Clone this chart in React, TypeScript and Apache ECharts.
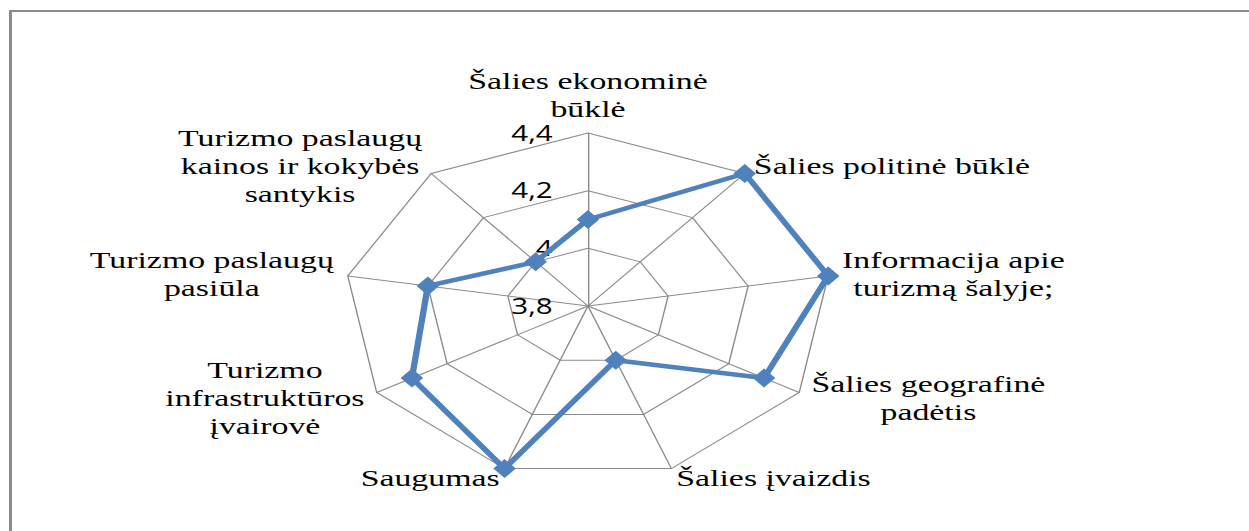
import React, { useEffect, useRef } from 'react';
import * as echarts from 'echarts';

// Categories in the clockwise order in which they appear, starting at the top
const categories: string[] = [
  'Šalies ekonominė\nbūklė',
  'Šalies politinė būklė',
  'Informacija apie\nturizmą šalyje;',
  'Šalies geografinė\npadėtis',
  'Šalies įvaizdis',
  'Saugumas',
  'Turizmo\ninfrastruktūros\nįvairovė',
  'Turizmo paslaugų\npasiūla',
  'Turizmo paslaugų\nkainos ir kokybės\nsantykis',
];
const values: number[] = [4.1, 4.4, 4.4, 4.3, 4.0, 4.4, 4.3, 4.2, 4.0];
const axisMin = 3.8;
const axisMax = 4.4;
const splitCount = 3;

const STRETCH = 1.41;
const PAGE_W = 1249;
const PAGE_H = 531;
const CHART_W = Math.round(PAGE_W / STRETCH);

export default function App() {
  const ref = useRef<HTMLDivElement>(null);

  useEffect(() => {
    if (!ref.current) return;
    document.body.style.overflow = 'hidden';
    const chart = echarts.init(ref.current, undefined, { renderer: 'svg' });
    // ECharts lays radar indicators counter-clockwise; reorder to get clockwise
    const order = [0, ...categories.slice(1).map((_, i) => categories.length - 1 - i)];
    const fmtTick = (v: number) => String(Number(v.toFixed(2))).replace('.', ',');
    chart.setOption({
      animation: false,
      backgroundColor: 'transparent',
      radar: {
        center: [417, 306],
        radius: 173,
        startAngle: 90,
        splitNumber: splitCount,
        shape: 'polygon',
        axisNameGap: 10,
        axisName: {
          color: '#000',
          fontFamily: 'Liberation Serif',
          fontSize: 24,
          lineHeight: 28,
          formatter: (name: string) =>
            name
              .split('\n')
              .map((l) => `{c|${l}}`)
              .join('\n'),
          rich: {
            c: {
              align: 'center',
              color: '#000',
              fontFamily: 'Liberation Serif',
              fontSize: 24,
              lineHeight: 28,
            },
          },
        },
        axisLine: { lineStyle: { color: '#8c8c8c', width: 1 } },
        splitLine: { lineStyle: { color: '#8c8c8c', width: 1 } },
        splitArea: { show: false },
        axisTick: { show: false },
        axisLabel: { show: false },
        indicator: order.map((i) => {
          const ind: any = { name: categories[i], min: axisMin, max: axisMax };
          if (i === 0) {
            ind.axisLabel = {
              show: true,
              color: '#000',
              fontFamily: 'Open Sans',
              fontSize: 21,
              margin: 25,
              padding: [6, 0, 0, 0],
              formatter: fmtTick,
            };
          }
          return ind;
        }),
      },
      series: [
        {
          type: 'radar',
          symbol: 'diamond',
          symbolSize: [16, 19],
          lineStyle: { color: '#4F81BD', width: 4.5 },
          itemStyle: { color: '#4F81BD' },
          data: [{ value: order.map((i) => values[i]), name: 'Vertinimas' }],
        },
      ],
    });
    return () => chart.dispose();
  }, []);

  return (
    <div
      style={{
        position: 'fixed',
        left: 0,
        top: 0,
        width: PAGE_W,
        height: PAGE_H,
        overflow: 'hidden',
        background: '#fff',
      }}
    >
      <div
        style={{
          position: 'absolute',
          left: 9,
          top: 10,
          width: 1400,
          height: 700,
          borderLeft: '3px solid #8a8a8a',
          borderTop: '2px solid #8a8a8a',
        }}
      />
      <div
        ref={ref}
        style={{
          position: 'absolute',
          left: 0,
          top: 0,
          width: CHART_W,
          height: PAGE_H,
          transform: `scaleX(${STRETCH})`,
          transformOrigin: '0 0',
        }}
      />
    </div>
  );
}
